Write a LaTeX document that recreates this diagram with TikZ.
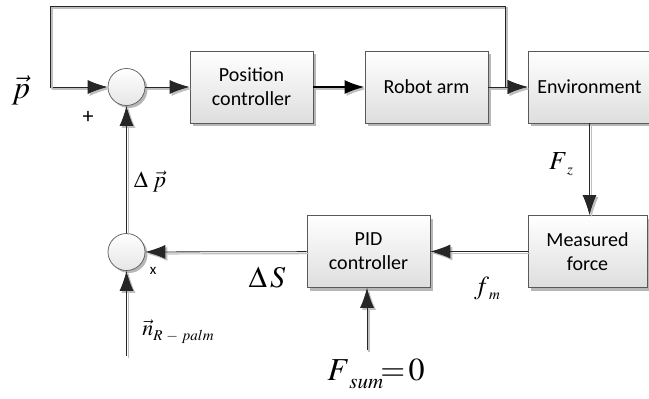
\documentclass[tikz,border=0pt]{standalone}
\usepackage{mathptmx}
\usepackage{fontspec}
\setsansfont{Carlito}
\usetikzlibrary{arrows.meta,shadows}

% a subscript of chosen size, dropped by a chosen depth
\newcommand{\lowsub}[3]{\lower#1\hbox{\fontsize{#2}{#2}\selectfont$#3$}}

\begin{document}
\begin{tikzpicture}[x=1pt,y=-1pt,
  tip/.style={-{Latex[length=20pt,width=14pt]}},
  blk/.style={draw=black!65, line width=0.7pt, top color=white, bottom color=black!13,
    drop shadow={shadow xshift=3pt, shadow yshift=-3pt, fill=black!40, opacity=0.7},
    minimum width=123pt, minimum height=72pt, inner sep=0pt, align=center,
    font=\sffamily\fontsize{20}{24}\selectfont},
  sumnode/.style={circle, draw=black!65, line width=0.7pt, top color=white, bottom color=black!10,
    drop shadow={shadow xshift=2.5pt, shadow yshift=-2.5pt, fill=black!40, opacity=0.7},
    minimum size=37pt, inner sep=0pt},
  conn/.style={draw=black!85, line width=0.8pt, tip,
    preaction={draw=black!25, line width=1.2pt, tip, transform canvas={shift={(2pt,-2pt)}}}},
  thickconn/.style={draw=black, line width=2.2pt, -{Latex[length=20pt,width=14pt]},
    preaction={draw=black!25, line width=2.2pt, -{Latex[length=20pt,width=14pt]}, transform canvas={shift={(2pt,-2pt)}}}},
  lbl/.style={inner sep=0pt},
]
\useasboundingbox (0,0) rectangle (649,399);

% blocks
\node[blk] (pos)  at (251.5,87)  {Position\\controller};
\node[blk] (arm)  at (426.5,87)  {Robot arm};
\node[blk] (env)  at (589.5,87)  {Environment};
\node[blk, minimum width=119pt] (meas) at (587.5,251.5) {Measured\\force};
\node[blk] (pid)  at (368.5,251.5) {PID\\controller};

% summing junctions
\node[sumnode] (s1) at (126.5,87) {};
\node[sumnode] (s2) at (126.5,252) {};

% auxiliary points
\coordinate (pin)  at (50,87);
\coordinate (ltop) at (50,6);
\coordinate (jn)   at (505,87);
\coordinate (nin)  at (126.5,356);
\coordinate (fin)  at (367,350);

% connectors
\draw[conn] (pin) -- (s1.west);
\draw[conn] (pin) -- (ltop) -| (jn) -- (env.west);
\draw[conn] (s1) -- (pos);
\draw[thickconn] (pos) -- (arm);
\draw[conn] (arm) -- (env);
\draw[conn] (env.south) -- (env.south |- meas.north);
\draw[conn] (meas) -- (pid);
\draw[conn] (pid) -- (s2);
\draw[conn] (s2) -- (s1);
\draw[conn] (nin) -- (s2);
\draw[conn] (fin) -- (fin |- pid.south);

% labels
\node[lbl] (lp)   at (21,90)   {\fontsize{32}{32}\selectfont$\vec{p}$};
\node[lbl] (lplus) at (88,117) {\sffamily\fontsize{22}{22}\selectfont +};
\node[lbl] (lx)   at (153,271) {\sffamily\fontsize{15}{15}\selectfont x};
\node[lbl] (ldp)  at (150,182) {\fontsize{23}{23}\selectfont$\Delta\;\vec{p}$};
\node[lbl] (lds)  at (267,278) {\fontsize{30}{30}\selectfont$\Delta\,S$};
\node[lbl] (lfz)  at (561,164) {\fontsize{26}{26}\selectfont$F$\lowsub{5pt}{15}{z}};
\node[lbl] (lfm)  at (487,288) {\fontsize{26}{26}\selectfont$f$\lowsub{5pt}{15}{m}};
\node[lbl] (ln)   at (178,332) {\fontsize{22}{22}\selectfont$\vec{n}$\lowsub{5pt}{15}{R\,-\,palm}};
\node[lbl] (lfs)  at (376,374) {\fontsize{32}{32}\selectfont$F$\lowsub{8pt}{21}{sum}\kern-3pt$=\!0$};
\end{tikzpicture}
\end{document}
